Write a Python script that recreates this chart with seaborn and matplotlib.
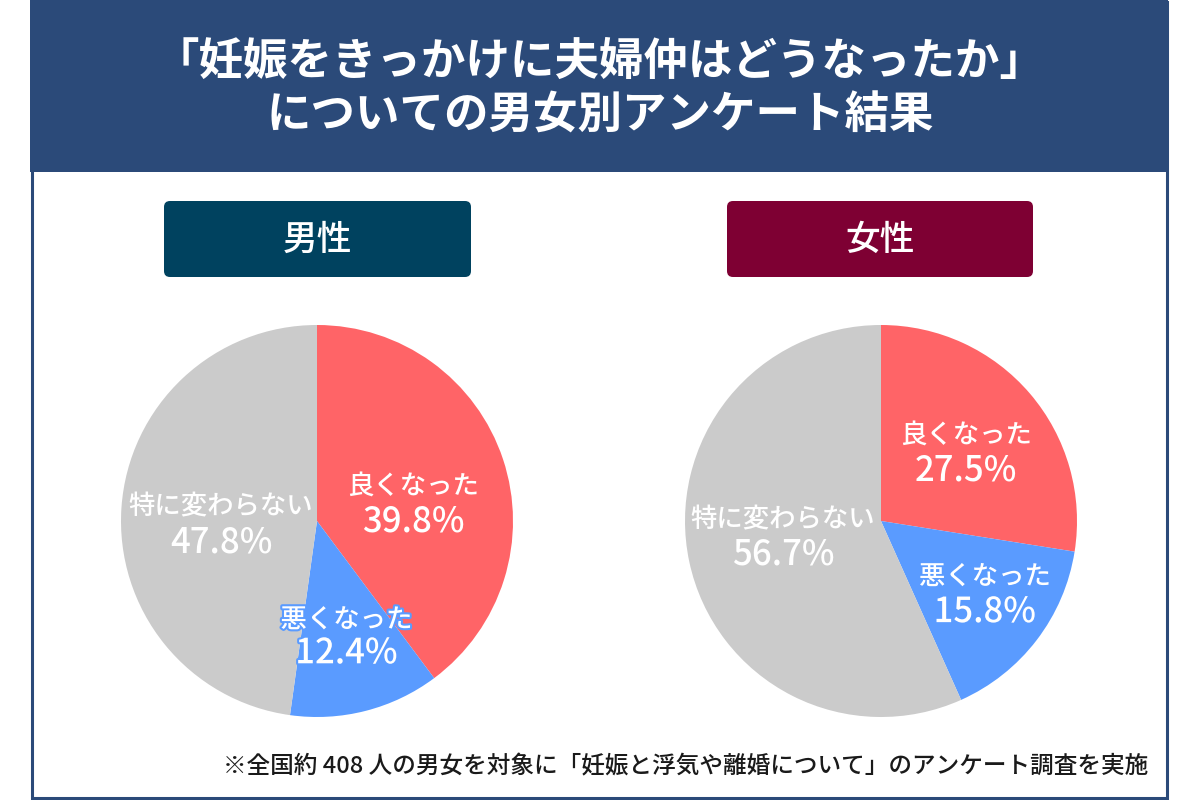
import matplotlib
matplotlib.use("Agg")
import matplotlib.pyplot as plt
import seaborn as sns
from matplotlib.patches import Rectangle, FancyBboxPatch
import matplotlib.patheffects as pe

# ---- data ----
categories = ["良くなった", "悪くなった", "特に変わらない"]
male_values = [39.8, 12.4, 47.8]
female_values = [27.5, 15.8, 56.7]
groups = ["男性", "女性"]
title_lines = ["「妊娠をきっかけに夫婦仲はどうなったか」", "についての男女別アンケート結果"]
footnote = "※全国約 408 人の男女を対象に「妊娠と浮気や離婚について」のアンケート調査を実施"

# ---- style ----
sns.set_theme(style="white")
plt.rcParams['font.family'] = ['Noto Sans CJK JP', 'DejaVu Sans']
palette = sns.color_palette(["#FF6467", "#5A9BFF", "#CBCBCB"])
HEADER = "#2B4A79"
group_colors = ["#00425F", "#7E0033"]

W, H = 1200, 800
fig = plt.figure(figsize=(12, 8), dpi=100)
bg = fig.add_axes([0, 0, 1, 1])
bg.set_xlim(0, W)
bg.set_ylim(H, 0)
bg.axis('off')

# frame + header
bg.add_patch(Rectangle((31.5, 1.5), 1135, 796, fc='white', ec=HEADER, lw=2.2))
bg.add_patch(Rectangle((30, 0), 1138, 172, fc=HEADER, ec='none'))
bg.text(600, 62, title_lines[0], ha='center', va='center', color='white',
        fontsize=32, fontweight='bold')
bg.text(600, 116, title_lines[1], ha='center', va='center', color='white',
        fontsize=32, fontweight='bold')

# group boxes
box_layout = [(164, 201, 307, 76), (727, 201, 306, 76)]
for (x0, y0, w, h), name, col in zip(box_layout, groups, group_colors):
    bg.add_patch(FancyBboxPatch((x0, y0), w, h,
                                boxstyle="round,pad=0,rounding_size=6",
                                fc=col, ec='none'))
    bg.text(x0 + w / 2, y0 + h / 2 + 1, name, ha='center', va='center',
            color='white', fontsize=25, fontweight='medium')

bg.text(1148, 767, footnote, ha='right', va='center', color='#1a1a1a',
        fontsize=17, fontweight='medium')

# pies
R = 196
centers = [(317, 521), (881, 521)]
label_pos = [
    {"良くなった": (0.49, 0.18, 0.0), "悪くなった": (0.15, -0.505, -0.675),
     "特に変わらない": (-0.49, 0.07, -0.11)},
    {"良くなった": (0.435, 0.44, 0.26), "悪くなった": (0.53, -0.285, -0.465),
     "特に変わらない": (-0.50, 0.005, -0.17)},
]
for (cx, cy), vals, lp in zip(centers, [male_values, female_values], label_pos):
    ax = fig.add_axes([(cx - R) / W, 1 - (cy + R) / H, 2 * R / W, 2 * R / H])
    ax.pie(vals, colors=palette, startangle=90, counterclock=False,
           wedgeprops=dict(linewidth=0))
    ax.set_xlim(-1, 1)
    ax.set_ylim(-1, 1)
    ax.axis('off')
    for cat, v, col in zip(categories, vals, palette):
        x, y1, y2 = lp[cat]
        effects = []
        if cat == "悪くなった":
            effects = [pe.withStroke(linewidth=3, foreground=palette[1])]
        ax.text(x, y1, cat, ha='center', va='center', color='white',
                fontsize=19, fontweight='medium', path_effects=effects)
        ax.text(x, y2, f"{v:.1f}%", ha='center', va='center', color='white',
                fontsize=25, fontweight='medium', path_effects=effects)

fig.savefig("out.png", dpi=100)
